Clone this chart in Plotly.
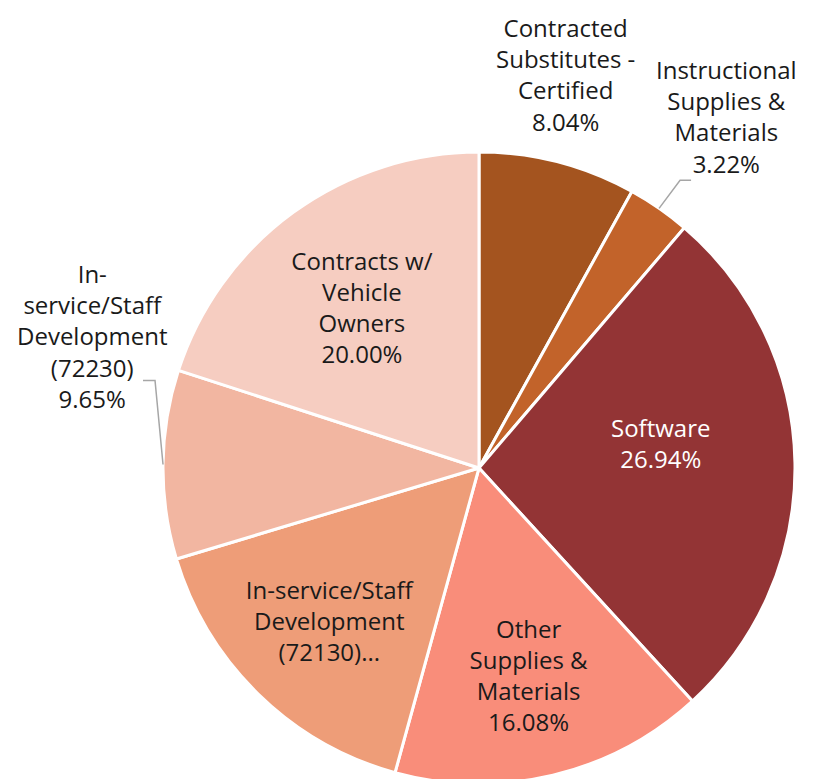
import numpy as np
import plotly.graph_objects as go

labels = [
    "Contracted Substitutes - Certified",
    "Instructional Supplies & Materials",
    "Software",
    "Other Supplies & Materials",
    "In-service/Staff Development (72130)",
    "In-service/Staff Development (72230)",
    "Contracts w/ Vehicle Owners",
]
values = [8.04, 3.22, 26.94, 16.08, 16.07, 9.65, 20.00]
label_texts = [
    "Contracted<br>Substitutes -<br>Certified<br>8.04%",
    "Instructional<br>Supplies &<br>Materials<br>3.22%",
    "Software<br>26.94%",
    "Other<br>Supplies &<br>Materials<br>16.08%",
    "In-service/Staff<br>Development<br>(72130)...",
    "In-<br>service/Staff<br>Development<br>(72230)<br>9.65%",
    "Contracts w/<br>Vehicle<br>Owners<br>20.00%",
]
colors = ["#A4541F", "#C2632A", "#933435", "#F98D7A", "#EE9D78", "#F2B6A1", "#F6CDC1"]
text_colors = ["#1a1a1a", "#1a1a1a", "#FFFFFF", "#1a1a1a", "#1a1a1a", "#1a1a1a", "#1a1a1a"]
# labels drawn separately as annotations (outside ones, and Software which sits higher)
separate = [True, True, True, False, False, True, False]

FONT = "Open Sans"
FS = 24
W, H = 814, 779
OFF = 8  # page body margin
CX, CY, R = 479, 468, 316  # pie centre / radius on the page


def px(sx):
    return (sx - OFF) / W


def py(sy):
    return 1 - (sy - OFF) / H


inside_text = [("" if s else t) for t, s in zip(label_texts, separate)]

fig = go.Figure(go.Pie(
    labels=labels,
    values=values,
    text=inside_text,
    texttemplate="%{text}",
    textposition="inside",
    insidetextorientation="horizontal",
    sort=False,
    direction="clockwise",
    rotation=0,
    marker=dict(colors=colors, line=dict(color="white", width=3)),
    textfont=dict(family=FONT, size=FS, color=text_colors),
    hoverinfo="label+percent",
    showlegend=False,
    domain=dict(x=[px(CX - R), px(CX + R)], y=[py(CY + R), py(CY - R)]),
))

# slice mid-angles (clockwise from 12 o'clock) from the data
vals = np.array(values)
mid = (np.cumsum(vals) - vals / 2) / vals.sum() * 2 * np.pi
edge_x = CX + R * np.sin(mid)
edge_y = CY - R * np.cos(mid)

# separate label placement: label centre on the page, optional leader (elbow dx, elbow dy, tail dx)
placements = {
    0: dict(lx=565, ly=75, leader=None),
    1: dict(lx=726, ly=117, leader=(21, -28, 11)),
    2: dict(lx=660, ly=443, leader=None),
    5: dict(lx=92, ly=336, leader=(-8, -84, -12)),
}

annotations = []
shapes = []
for i, p in placements.items():
    annotations.append(dict(
        x=px(p["lx"]), y=py(p["ly"]), xref="paper", yref="paper",
        text=label_texts[i], showarrow=False, align="center",
        xanchor="center", yanchor="middle",
        font=dict(family=FONT, size=FS, color=text_colors[i]),
    ))
    if p["leader"]:
        dx, dy, tx = p["leader"]
        ex, ey = edge_x[i], edge_y[i]
        bx, by = ex + dx, ey + dy
        shapes.append(dict(type="path", xref="paper", yref="paper",
                           path=f"M {px(ex)},{py(ey)} L {px(bx)},{py(by)} L {px(bx + tx)},{py(by)}",
                           line=dict(color="#a6a6a6", width=1.5)))

fig.update_layout(
    width=W,
    height=H,
    margin=dict(l=0, r=0, t=0, b=0),
    paper_bgcolor="white",
    plot_bgcolor="white",
    annotations=annotations,
    shapes=shapes,
)
fig.write_html("out.html")
